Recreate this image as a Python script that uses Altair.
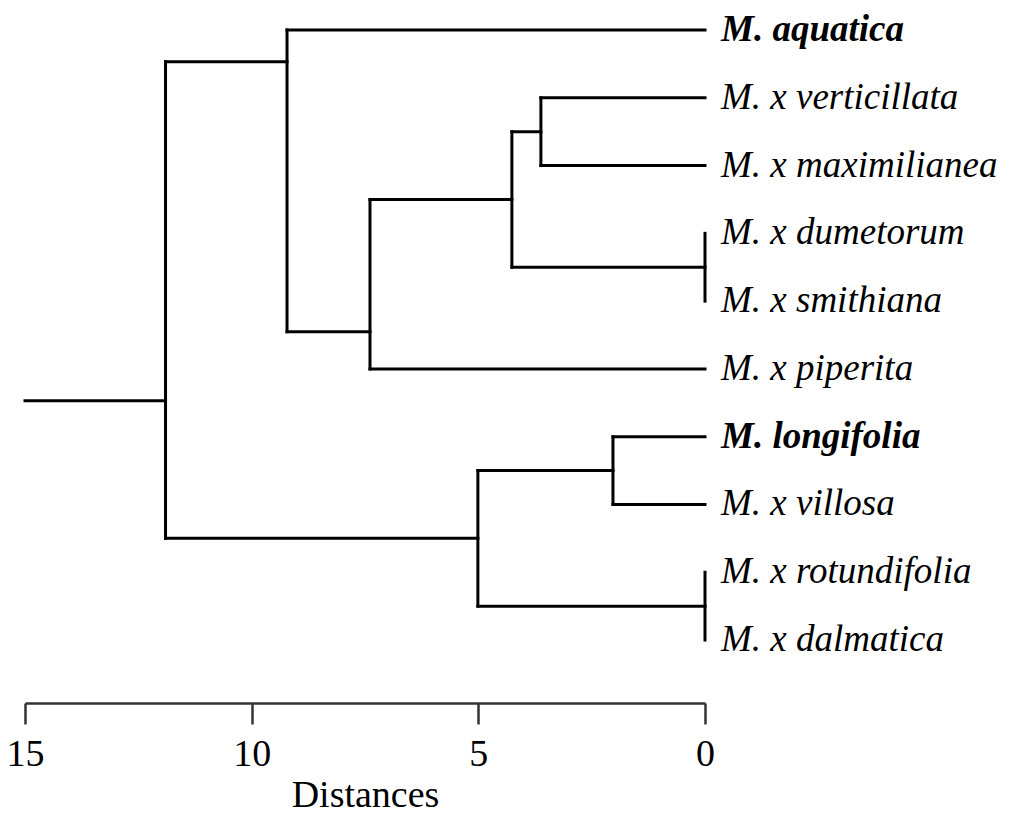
import altair as alt
import pandas as pd

# ---- data ----
leaves = ["M. aquatica", "M. x verticillata", "M. x maximilianea", "M. x dumetorum",
          "M. x smithiana", "M. x piperita", "M. longifolia", "M. x villosa",
          "M. x rotundifolia", "M. x dalmatica"]
bold_leaves = ["M. aquatica", "M. longifolia"]

# merges (children, merge distance, vertical row where the branch leaves the cluster)
merge_names = ["VM", "DS", "A", "B", "C", "LV", "RD", "D", "ROOT"]
merge_left = ["M. x verticillata", "M. x dumetorum", "VM", "A", "M. aquatica",
              "M. longifolia", "M. x rotundifolia", "LV", "C"]
merge_right = ["M. x maximilianea", "M. x smithiana", "DS", "M. x piperita", "B",
               "M. x villosa", "M. x dalmatica", "RD", "D"]
merge_dist = [3.62, 0.0, 4.26, 7.39, 9.22, 2.03, 0.0, 5.01, 11.9]
merge_row = [1.5, 3.5, 2.5, 4.45, 0.47, 6.5, 8.5, 7.5, 5.47]

axis_max = 15
tick_values = [15, 10, 5, 0]

# ---- build dendrogram segments from the tree ----
pos = {name: (0.0, float(i)) for i, name in enumerate(leaves)}
segs = []
for name, l, r, d, row in zip(merge_names, merge_left, merge_right, merge_dist, merge_row):
    xl, yl = pos[l]
    xr, yr = pos[r]
    segs.append(dict(x=d, x2=d, y=yl, y2=yr))
    if d > xl:
        segs.append(dict(x=xl, x2=d, y=yl, y2=yl))
    if d > xr:
        segs.append(dict(x=xr, x2=d, y=yr, y2=yr))
    pos[name] = (d, row)
root_d, root_row = pos["ROOT"]
segs.append(dict(x=root_d, x2=axis_max, y=root_row, y2=root_row))
seg_df = pd.DataFrame(segs)

leaf_df = pd.DataFrame({"name": leaves, "row": list(range(len(leaves))), "dist": [0.0] * len(leaves)})
leaf_df["bold"] = leaf_df["name"].isin(bold_leaves)

FONT = "Liberation Serif"

xscale = alt.Scale(domain=[0, axis_max], reverse=True, nice=False, zero=False)
yscale = alt.Scale(domain=[-0.3246, 9.929], reverse=True, nice=False, zero=False)

xaxis = alt.Axis(
    values=tick_values, format="d", grid=False,
    domainColor="#333333", domainWidth=2.5, tickColor="#333333", tickWidth=2.5, tickSize=21,
    labelFont=FONT, labelFontSize=38, labelColor="black", labelPadding=11,
    labelFlush=False, labelOverlap=False, labelBound=False,
    title="Distances", titleFont=FONT, titleFontSize=38, titleFontWeight="normal",
    titleColor="black", titleBaseline="alphabetic", titleY=103,
)

lines = alt.Chart(seg_df).mark_rule(color="black", strokeWidth=3, strokeCap="square").encode(
    x=alt.X("x:Q", scale=xscale, axis=xaxis),
    x2="x2:Q",
    y=alt.Y("y:Q", scale=yscale, axis=None),
    y2="y2:Q",
)

text_base = alt.Chart(leaf_df).encode(
    x=alt.X("dist:Q", scale=xscale),
    y=alt.Y("row:Q", scale=yscale),
    text="name:N",
)
labels_normal = text_base.transform_filter("!datum.bold").mark_text(
    align="left", baseline="middle", dx=16, font=FONT, fontSize=37,
    fontStyle="italic", color="black")
labels_bold = text_base.transform_filter("datum.bold").mark_text(
    align="left", baseline="middle", dx=16, font=FONT, fontSize=37,
    fontStyle="italic", fontWeight="bold", color="black")

chart = alt.layer(lines, labels_normal, labels_bold).properties(
    width=680, height=695,
    autosize=alt.AutoSizeParams(type="none"),
    padding={"left": 17, "top": 0, "right": 298, "bottom": 111},
    background="white",
).configure_view(stroke=None)

chart.save("out.html", embed_options={"renderer": "svg", "actions": False})
